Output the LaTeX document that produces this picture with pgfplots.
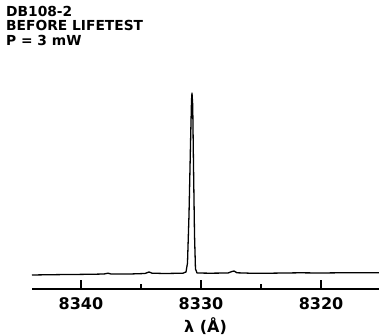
\documentclass[border=0pt]{standalone}
\usepackage{fontspec}
\setmainfont{DejaVu Sans}
\usepackage{pgfplots}
\pgfplotsset{compat=1.18}
\begin{document}
\begin{tikzpicture}[x=1pt,y=1pt]
\useasboundingbox (0,0) rectangle (379,336);
\node[anchor=north west, inner sep=0pt, align=left, font=\fontsize{13.8}{14.5}\selectfont\bfseries] at (6,330)
  {DB108-2\\BEFORE LIFETEST\\P = 3 mW};
\begin{axis}[
  at={(32pt,47pt)}, anchor=south west,
  scale only axis, width=347pt, height=197pt,
  xmin=8315.17, xmax=8344.08, x dir=reverse,
  ymin=-14, ymax=183,
  axis x line*=bottom, axis y line=none,
  axis line style={line width=1.1pt},
  xtick={8340,8330,8320}, xticklabels={8340,8330,8320},
  minor xtick={8335,8325},
  tick align=inside,
  major tick length=9pt, minor tick length=5pt,
  every tick/.style={black, line width=1.1pt},
  xticklabel style={font=\fontsize{16}{18}\selectfont\bfseries, yshift=-5pt},
  xlabel={λ (Å)},
  xlabel style={font=\fontsize{16}{18}\selectfont\bfseries, yshift=-1pt},
  clip=false,
]
\addplot[black, line width=1.3pt, line join=round] coordinates {
(8344.08,0) (8343.0,0.2) (8341.75,0.4) (8340.08,0.6) (8338.83,0.8)
(8338.08,1.0) (8337.75,1.8) (8337.5,1.0) (8335.92,1.0) (8334.67,1.5)
(8334.33,3.0) (8334.08,1.8) (8333.0,1.5) (8331.5,1.8) (8331.25,3)
(8331.125,12) (8331.0,60) (8330.875,130) (8330.79,175) (8330.75,182)
(8330.69,170) (8330.625,110) (8330.54,40) (8330.46,6) (8330.33,2)
(8329.25,1.8) (8327.75,2) (8327.42,3.5) (8327.25,4) (8327.0,2.2)
(8325.92,1.8) (8324.25,1.8) (8321.75,2.2) (8320.08,2.0) (8317.58,2.3)
(8315.17,2.2)
};
\end{axis}
\end{tikzpicture}
\end{document}
